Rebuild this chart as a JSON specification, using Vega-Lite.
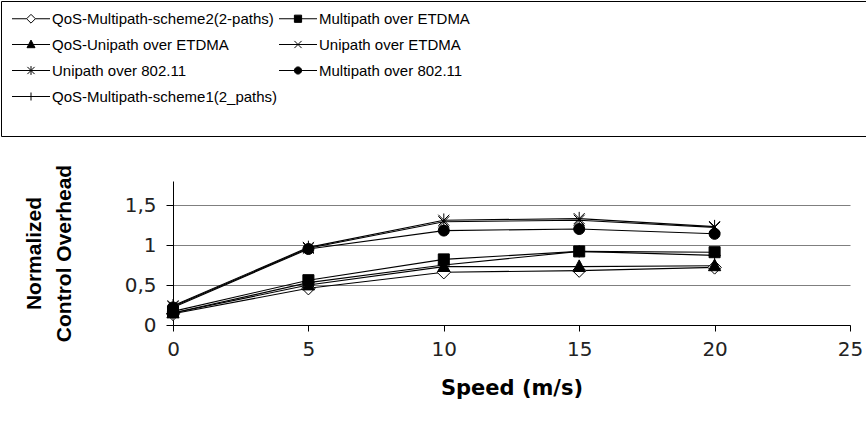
{
  "$schema": "https://vega.github.io/schema/vega-lite/v6.json",
  "width": 677,
  "height": 144,
  "autosize": {"type": "none"},
  "padding": {"left": 173, "top": 181, "right": 16, "bottom": 109},
  "background": "white",
  "config": {
    "view": {"stroke": null},
    "font": "Liberation Sans"
  },
  "data": {
    "values": [
      {"series": "QoS-Multipath-scheme2(2-paths)", "speed": 0, "overhead": 0.14},
      {"series": "QoS-Multipath-scheme2(2-paths)", "speed": 5, "overhead": 0.46},
      {"series": "QoS-Multipath-scheme2(2-paths)", "speed": 10, "overhead": 0.66},
      {"series": "QoS-Multipath-scheme2(2-paths)", "speed": 15, "overhead": 0.68},
      {"series": "QoS-Multipath-scheme2(2-paths)", "speed": 20, "overhead": 0.72},
      {"series": "Multipath over ETDMA", "speed": 0, "overhead": 0.17},
      {"series": "Multipath over ETDMA", "speed": 5, "overhead": 0.56},
      {"series": "Multipath over ETDMA", "speed": 10, "overhead": 0.82},
      {"series": "Multipath over ETDMA", "speed": 15, "overhead": 0.92},
      {"series": "Multipath over ETDMA", "speed": 20, "overhead": 0.91},
      {"series": "QoS-Unipath over ETDMA", "speed": 0, "overhead": 0.15},
      {"series": "QoS-Unipath over ETDMA", "speed": 5, "overhead": 0.5},
      {"series": "QoS-Unipath over ETDMA", "speed": 10, "overhead": 0.73},
      {"series": "QoS-Unipath over ETDMA", "speed": 15, "overhead": 0.73},
      {"series": "QoS-Unipath over ETDMA", "speed": 20, "overhead": 0.74},
      {"series": "Unipath over ETDMA", "speed": 0, "overhead": 0.23},
      {"series": "Unipath over ETDMA", "speed": 5, "overhead": 0.96},
      {"series": "Unipath over ETDMA", "speed": 10, "overhead": 1.29},
      {"series": "Unipath over ETDMA", "speed": 15, "overhead": 1.31},
      {"series": "Unipath over ETDMA", "speed": 20, "overhead": 1.22},
      {"series": "Unipath over 802.11", "speed": 0, "overhead": 0.24},
      {"series": "Unipath over 802.11", "speed": 5, "overhead": 0.97},
      {"series": "Unipath over 802.11", "speed": 10, "overhead": 1.31},
      {"series": "Unipath over 802.11", "speed": 15, "overhead": 1.33},
      {"series": "Unipath over 802.11", "speed": 20, "overhead": 1.23},
      {"series": "Multipath over 802.11", "speed": 0, "overhead": 0.22},
      {"series": "Multipath over 802.11", "speed": 5, "overhead": 0.95},
      {"series": "Multipath over 802.11", "speed": 10, "overhead": 1.18},
      {"series": "Multipath over 802.11", "speed": 15, "overhead": 1.2},
      {"series": "Multipath over 802.11", "speed": 20, "overhead": 1.14},
      {"series": "QoS-Multipath-scheme1(2_paths)", "speed": 0, "overhead": 0.15},
      {"series": "QoS-Multipath-scheme1(2_paths)", "speed": 5, "overhead": 0.53},
      {"series": "QoS-Multipath-scheme1(2_paths)", "speed": 10, "overhead": 0.75},
      {"series": "QoS-Multipath-scheme1(2_paths)", "speed": 15, "overhead": 0.92},
      {"series": "QoS-Multipath-scheme1(2_paths)", "speed": 20, "overhead": 0.87}
    ]
  },
  "encoding": {
    "x": {
      "field": "speed",
      "type": "quantitative",
      "scale": {"domain": [0, 25], "nice": false, "zero": false},
      "axis": {
        "title": "Speed (m/s)",
        "titleFont": "DejaVu Sans",
        "titleFontSize": 21,
        "titleFontWeight": "bold",
        "titleColor": "black",
        "titlePadding": 18,
        "values": [0, 5, 10, 15, 20, 25],
        "labelFont": "DejaVu Sans",
        "labelFontSize": 20,
        "labelColor": "#222222",
        "labelPadding": 8,
        "labelFlush": false,
        "tickSize": 6,
        "tickColor": "black",
        "domainColor": "black",
        "grid": false
      }
    },
    "y": {
      "field": "overhead",
      "type": "quantitative",
      "scale": {"domain": [0, 1.8], "nice": false},
      "axis": {
        "title": ["Normalized", "Control Overhead"],
        "titleFont": "Liberation Sans",
        "titleFontSize": 21,
        "titleFontWeight": "bold",
        "titleColor": "black",
        "titleLineHeight": 30,
        "titlePadding": 50,
        "values": [0, 0.5, 1, 1.5],
        "labelExpr": "replace(format(datum.value, '~g'), '.', ',')",
        "labelFont": "DejaVu Sans",
        "labelFontSize": 20,
        "labelColor": "#222222",
        "labelPadding": 10,
        "tickSize": 7,
        "tickColor": "black",
        "domainColor": "black",
        "grid": true,
        "gridColor": "#7f7f7f",
        "gridWidth": 1
      }
    }
  },
  "resolve": {
    "scale": {"shape": "independent", "fill": "independent"},
    "legend": {"shape": "independent", "fill": "independent"}
  },
  "layer": [
    {
      "mark": {"type": "line", "color": "black", "strokeWidth": 1.1},
      "encoding": {"detail": {"field": "series"}}
    },
    {
      "mark": {"type": "point", "stroke": "black", "strokeWidth": 1, "size": 150, "opacity": 1},
      "encoding": {
        "shape": {
          "field": "series",
          "type": "nominal",
          "scale": {
            "domain": [
              "QoS-Multipath-scheme2(2-paths)",
              "Multipath over ETDMA",
              "QoS-Unipath over ETDMA",
              "Unipath over ETDMA",
              "Unipath over 802.11",
              "Multipath over 802.11",
              "QoS-Multipath-scheme1(2_paths)"
            ],
            "range": [
              "M0,-1.1L1.1,0L0,1.1L-1.1,0Z",
              "M-0.9,-0.9H0.9V0.9H-0.9Z",
              "M0,-1.1L1,0.8H-1Z",
              "M-0.9,-0.9L0.9,0.9M-0.9,0.9L0.9,-0.9",
              "M-0.9,-0.9L0.9,0.9M-0.9,0.9L0.9,-0.9M0,-1.1V1.1",
              "M0.9,0A0.9,0.9,0,1,1,-0.9,0A0.9,0.9,0,1,1,0.9,0Z",
              "M-1,0H1M0,-1V1"
            ]
          },
          "legend": null
        },
        "fill": {
          "condition": {"test": "datum.series === 'QoS-Multipath-scheme2(2-paths)'", "value": "white"},
          "value": "black"
        }
      }
    },
    {
      "transform": [{"filter": "datum.speed < 0"}],
      "mark": {"type": "point", "stroke": "black", "strokeWidth": 1, "size": 64, "opacity": 1},
      "encoding": {
        "shape": {
          "field": "series",
          "type": "nominal",
          "scale": {
            "domain": [
              "QoS-Multipath-scheme2(2-paths)",
              "Multipath over ETDMA",
              "QoS-Unipath over ETDMA",
              "Unipath over ETDMA",
              "Unipath over 802.11",
              "Multipath over 802.11",
              "QoS-Multipath-scheme1(2_paths)"
            ],
            "range": [
              "M0,-1.1L1.1,0L0,1.1L-1.1,0ZM-4.75,0H-1.1M1.1,0H4.75",
              "M-0.9,-0.9H0.9V0.9H-0.9ZM-4.75,0H4.75",
              "M0,-1.1L1,0.8H-1ZM-4.75,0H4.75",
              "M-0.9,-0.9L0.9,0.9M-0.9,0.9L0.9,-0.9M-4.75,0H4.75",
              "M-0.9,-0.9L0.9,0.9M-0.9,0.9L0.9,-0.9M0,-1.1V1.1M-4.75,0H4.75",
              "M0.9,0A0.9,0.9,0,1,1,-0.9,0A0.9,0.9,0,1,1,0.9,0ZM-4.75,0H4.75",
              "M0,-1V1M-4.75,0H4.75"
            ]
          },
          "legend": {
            "orient": "none",
            "legendX": -172,
            "legendY": -180,
            "columns": 2,
            "direction": "horizontal",
            "title": " ",
            "titleOrient": "right",
            "titleFontSize": 136,
            "titlePadding": 420,
            "strokeColor": "black",
            "fillColor": "white",
            "padding": 10,
            "columnPadding": -8,
            "rowPadding": 10,
            "symbolSize": 64,
            "symbolStrokeWidth": 1,
            "symbolOffset": 12.5,
            "labelOffset": 13.5,
            "labelFont": "Liberation Sans",
            "labelFontSize": 15,
            "labelColor": "black",
            "labelLimit": 400
          }
        },
        "fill": {
          "field": "series",
          "type": "nominal",
          "scale": {
            "domain": [
              "QoS-Multipath-scheme2(2-paths)",
              "Multipath over ETDMA",
              "QoS-Unipath over ETDMA",
              "Unipath over ETDMA",
              "Unipath over 802.11",
              "Multipath over 802.11",
              "QoS-Multipath-scheme1(2_paths)"
            ],
            "range": ["white", "black", "black", "black", "black", "black", "black"]
          },
          "legend": {
            "orient": "none",
            "legendX": -172,
            "legendY": -180,
            "columns": 2,
            "direction": "horizontal",
            "title": " ",
            "titleOrient": "right",
            "titleFontSize": 136,
            "titlePadding": 420,
            "strokeColor": "black",
            "fillColor": "white",
            "padding": 10,
            "columnPadding": -8,
            "rowPadding": 10,
            "symbolSize": 64,
            "symbolStrokeWidth": 1,
            "symbolOffset": 12.5,
            "labelOffset": 13.5,
            "labelFont": "Liberation Sans",
            "labelFontSize": 15,
            "labelColor": "black",
            "labelLimit": 400
          }
        }
      }
    }
  ]
}
